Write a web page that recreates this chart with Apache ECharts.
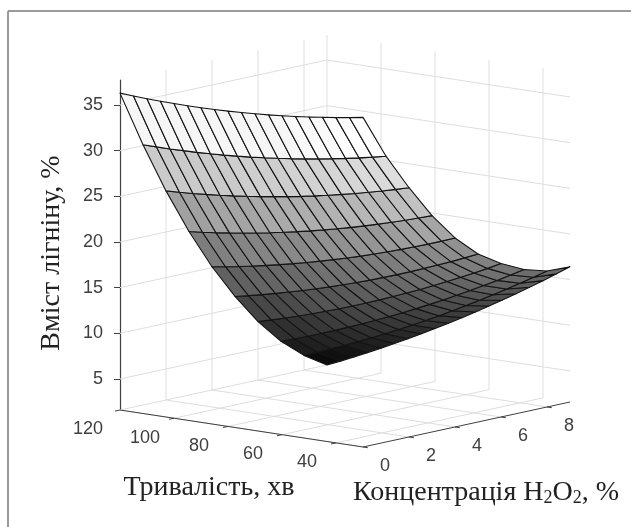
<!DOCTYPE html>
<html><head><meta charset="utf-8">
<style>html,body{margin:0;padding:0;background:#fff}#c{width:631px;height:527px}</style>
<script src="https://cdn.jsdelivr.net/npm/echarts@6/dist/echarts.min.js"></script>
</head><body><div id="c"></div>
<script>
// Data
const concentration = [0,1,2,3,4,5,6,7,8,9];
const duration = [30,35,40,45,50,55,60,65,70,75,80,85,90,95,100,105,110,115,120];
const lignin0 = [37.7,37.45,37.22,37.03,36.84,36.67,36.52,36.40,36.29,36.2,36.13,36.08,36.06,36.05,36.06,36.09,36.14,36.21,36.3];
const lignin1 = [32.9,32.57,32.27,31.99,31.73,31.48,31.26,31.05,30.87,30.7,30.55,30.43,30.32,30.24,30.17,30.13,30.09,30.09,30.1];
const lignin2 = [28.9,28.49,28.09,27.73,27.37,27.04,26.72,26.43,26.15,25.9,25.67,25.45,25.26,25.08,24.93,24.79,24.67,24.57,24.5];
const lignin3 = [25.3,24.81,24.34,23.89,23.46,23.05,22.66,22.28,21.93,21.6,21.29,21.0,20.72,20.47,20.24,20.03,19.82,19.65,19.5];
const lignin4 = [22.3,21.73,21.18,20.66,20.15,19.66,19.19,18.74,18.31,17.9,17.51,17.14,16.79,16.46,16.15,15.86,15.58,15.33,15.1];
const lignin5 = [20,19.35,18.71,18.11,17.52,16.94,16.39,15.86,15.34,14.85,14.38,13.92,13.49,13.08,12.68,12.31,11.95,11.61,11.3];
const lignin6 = [18.4,17.65,16.92,16.23,15.54,14.87,14.22,13.6,12.99,12.4,11.83,11.28,10.76,10.25,9.76,9.29,8.84,8.41,8.0];
const lignin7 = [17.2,16.37,15.56,14.78,14.01,13.25,12.52,11.81,11.12,10.45,9.8,9.17,8.56,7.97,7.39,6.84,6.3,5.79,5.3];
const lignin8 = [16.5,15.59,14.7,13.84,12.99,12.17,11.36,10.57,9.8,9.05,8.32,7.61,6.92,6.25,5.61,4.98,4.36,3.77,3.2];
const lignin9 = [16.4,15.41,14.44,13.49,12.56,11.65,10.76,9.88,9.03,8.2,7.39,6.6,5.82,5.07,4.34,3.63,2.92,2.25,1.6];
const concentrationTicks = [0,2,4,6,8];
const durationTicks = [120,100,80,60,40];
const ligninTicks = [5,10,15,20,25,30,35];

const lignin = [lignin0,lignin1,lignin2,lignin3,lignin4,lignin5,lignin6,lignin7,lignin8,lignin9];
const zMin = 1.6, zMax = 37.74, xMax = 9, tMin = 30, tMax = 120;
const PX_Z = 9.13;
// oblique view: plane position of a 3D point, expressed on the chart's two axes
function proj(x,t,z){
  const d = tMax - t;
  return [23*x + 2.7*d, z + (5*x - 0.411*d)/PX_Z];
}
// segments for the back walls and the floor
const gridSegs = [];
function seg(a,b){ gridSegs.push([...proj(...a),...proj(...b)]); }
ligninTicks.forEach(z=>{ seg([0,tMax,z],[xMax,tMax,z]); seg([xMax,tMax,z],[xMax,tMin,z]); });
concentrationTicks.forEach(x=>{ if(x>0) seg([x,tMax,zMin],[x,tMax,zMax]); seg([x,tMax,zMin],[x,tMin,zMin]); });
durationTicks.forEach(t=>{ seg([xMax,t,zMin],[xMax,t,zMax]); seg([0,t,zMin],[xMax,t,zMin]); });

const axisSegs = [[...proj(0,tMax,zMin),...proj(0,tMin,zMin)],[...proj(0,tMin,zMin),...proj(xMax,tMin,zMin)]];
durationTicks.forEach(t=>axisSegs.push([...proj(0,t,zMin),...proj(-0.22,t,zMin)]));
concentrationTicks.forEach(x=>axisSegs.push([...proj(x,tMin,zMin),...proj(x,tMin-1.8,zMin)]));

// faces far to near
const faces = [];
for(let i=concentration.length-2;i>=0;i--) for(let j=duration.length-2;j>=0;j--) faces.push([i,j]);

const labels = [];
durationTicks.forEach(t=>labels.push([...proj(0,t,zMin),String(t),t===120?-32:-29,19.5]));
concentrationTicks.forEach(x=>labels.push([...proj(x,tMin,zMin),String(x),22,19]));

const lineItem = color => (p,api)=>{
  const a=api.coord([api.value(0),api.value(1)]), b=api.coord([api.value(2),api.value(3)]);
  return {type:'line',shape:{x1:a[0],y1:a[1],x2:b[0],y2:b[1]},style:{stroke:color,lineWidth:1},silent:true};
};
const chart = echarts.init(document.getElementById('c'),null,{renderer:'canvas'});
const serif = '28px "Liberation Serif"';
chart.setOption({
  animation:false,
  backgroundColor:'#fff',
  grid:{left:120,top:80,width:450,height:330,containLabel:false},
  xAxis:{type:'value',min:0,max:450,show:false},
  yAxis:{type:'value',min:zMin,max:zMax,position:'left',
    axisLine:{show:true,lineStyle:{color:'#404040',width:1.2}},
    axisTick:{show:true,length:6,customValues:ligninTicks,lineStyle:{color:'#404040'}},
    axisLabel:{customValues:ligninTicks,fontFamily:'Liberation Sans',fontSize:18,color:'#404040',margin:17},
    splitLine:{show:false}},
  graphic:[
    {type:'line',z:10,shape:{x1:8,y1:11,x2:631,y2:11},style:{stroke:'#7a7a7a',lineWidth:1.5}},
    {type:'line',z:10,shape:{x1:8,y1:11,x2:8,y2:527},style:{stroke:'#7a7a7a',lineWidth:1.5}},
    {type:'text',z:10,x:52,y:253,rotation:Math.PI/2,style:{text:'Вміст лігніну, %',font:serif,fill:'#222',textAlign:'center',textVerticalAlign:'middle'}},
    {type:'text',z:10,x:209,y:488,style:{text:'Тривалість, хв',font:serif,fill:'#222',textAlign:'center',textVerticalAlign:'middle'}},
    {type:'text',z:10,x:486,y:493,style:{
      text:'{a|Концентрація H}{s|2}{a|O}{s|2}{a|, %}',textAlign:'center',textVerticalAlign:'middle',
      rich:{a:{font:serif,fill:'#222',verticalAlign:'bottom'},s:{font:'18px "Liberation Serif"',fill:'#222',verticalAlign:'bottom'}}}}
  ],
  series:[
    {type:'custom',coordinateSystem:'cartesian2d',z:1,silent:true,data:gridSegs,encode:{x:[0,2],y:[1,3]},renderItem:lineItem('#dedede')},
    {type:'custom',coordinateSystem:'cartesian2d',z:2,silent:true,data:faces,encode:{x:0,y:1},
      renderItem:(p,api)=>{
        const i=api.value(0), j=api.value(1);
        const v=(a,b)=>api.coord(proj(concentration[a],duration[b],lignin[a][b]));
        const g=Math.min(63,Math.floor((lignin[i][j]-zMin)/(zMax-zMin)*64))/63*255|0;
        return {type:'polygon',shape:{points:[v(i,j),v(i+1,j),v(i+1,j+1),v(i,j+1)]},
          style:{fill:`rgb(${g},${g},${g})`,stroke:'#141414',lineWidth:1.1,lineJoin:'round'}};
      }},
    {type:'custom',coordinateSystem:'cartesian2d',z:3,silent:true,data:axisSegs,encode:{x:[0,2],y:[1,3]},renderItem:lineItem('#404040')},
    {type:'custom',coordinateSystem:'cartesian2d',z:3,silent:true,data:labels,encode:{x:0,y:1},
      renderItem:(p,api)=>{
        const a=api.coord([api.value(0),api.value(1)]);
        return {type:'text',x:a[0]+api.value(3),y:a[1]+api.value(4),
          style:{text:labels[p.dataIndex][2],font:'18px "Liberation Sans"',fill:'#404040',textAlign:'center',textVerticalAlign:'middle'}};
      }}
  ]
});
</script></body></html>
